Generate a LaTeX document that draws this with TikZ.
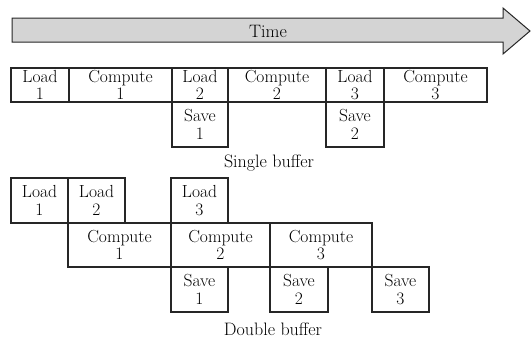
\documentclass[tikz,border=0pt]{standalone}
\begin{document}
\begin{tikzpicture}[x=1pt,y=-1pt,
  blk/.style={draw=black!85, line width=1.1pt, inner sep=0pt, outer sep=0pt,
    anchor=north west, align=center, font=\fontsize{17.5}{17.5}\selectfont},
  lbl/.style={font=\fontsize{18}{18}\selectfont, inner sep=0pt},
  timearrow/.style={draw=black!85, line width=1pt, fill=black!17, line join=miter}]
\useasboundingbox (0,0) rectangle (531,338);

% time arrow
\draw[timearrow] (12,18) -- (503,18) -- (503,8) -- (530,31) -- (503,54) -- (503,42) -- (12,42) -- cycle;
\node[lbl] (time) at (268,31) {Time};

% single buffer
\newcommand{\bx}[6]{\node[blk, minimum width=#3, minimum height=#4] (#1) at (#2) {#5\\#6};}
\bx{sl1}{11,68}{58}{34}{Load}{1}
\bx{sc1}{69,68}{103}{34}{Compute}{1}
\bx{sl2}{172,68}{56}{34}{Load}{2}
\bx{sc2}{228,68}{98}{34}{Compute}{2}
\bx{sl3}{326,68}{58}{34}{Load}{3}
\bx{sc3}{384,68}{103}{34}{Compute}{3}
\bx{ss1}{172,102}{56}{45}{Save}{1}
\bx{ss2}{326,102}{58}{45}{Save}{2}
\node[lbl] (single) at (269,163) {Single buffer};

% double buffer
\bx{dl1}{11,178}{57}{45}{Load}{1}
\bx{dl2}{68,178}{57}{45}{Load}{2}
\bx{dl3}{171,178}{57}{45}{Load}{3}
\bx{dc1}{68,223}{103}{44}{Compute}{1}
\bx{dc2}{171,223}{99}{44}{Compute}{2}
\bx{dc3}{270,223}{102}{44}{Compute}{3}
\bx{ds1}{171,267}{57}{45}{Save}{1}
\bx{ds2}{270,267}{58}{45}{Save}{2}
\bx{ds3}{372,267}{57}{45}{Save}{3}
\node[lbl] (double) at (273,329) {Double buffer};
\end{tikzpicture}
\end{document}
